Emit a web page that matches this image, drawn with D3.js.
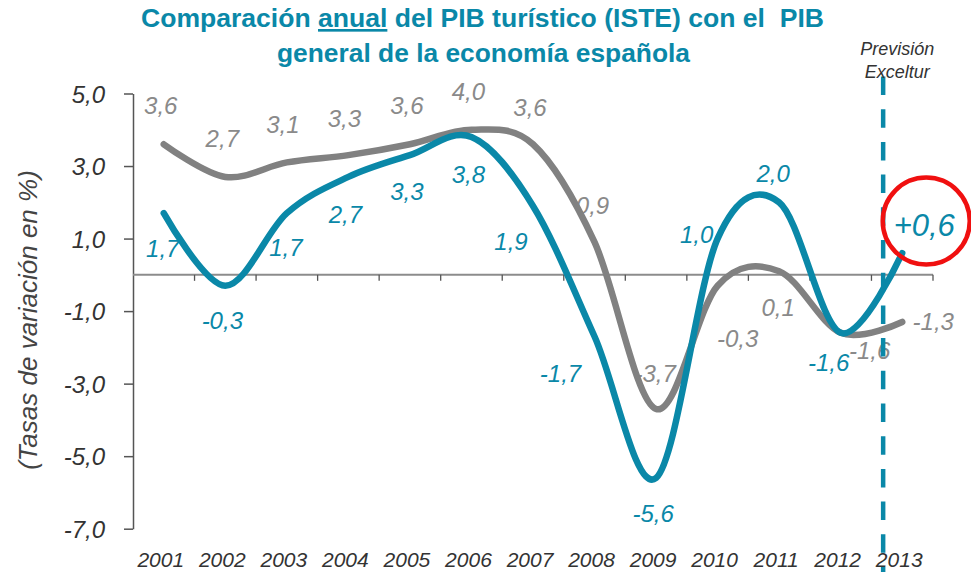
<!DOCTYPE html>
<html>
<head>
<meta charset="utf-8">
<script src="https://cdn.jsdelivr.net/npm/d3@7"></script>
<style>
  html, body { margin: 0; padding: 0; background: #ffffff; }
  svg { display: block; }
  text { font-family: "Liberation Sans", Arial, Helvetica, sans-serif; }
</style>
</head>
<body>
<svg id="chart" width="971" height="572"></svg>
<script>
// ---------------- DATA ----------------
const years = ["2001","2002","2003","2004","2005","2006","2007","2008","2009","2010","2011","2012","2013"];
const pibTuristico = [1.7, -0.3, 1.7, 2.7, 3.3, 3.8, 1.9, -1.7, -5.6, 1.0, 2.0, -1.6, 0.6];   // ISTE (teal)
const pibGeneral   = [3.6, 2.7, 3.1, 3.3, 3.6, 4.0, 3.6, 0.9, -3.7, -0.3, 0.1, -1.6, -1.3];  // PIB general (gray)
const yTicks = [-7, -5, -3, -1, 1, 3, 5];
const forecastYear = "2013";
const titleLine1 = ["Comparación ", "anual", " del PIB turístico (ISTE) con el  PIB"];
const titleLine2 = "general de la economía española";
const yAxisTitle = "(Tasas de variación en %)";
const forecastNote = ["Previsión", "Exceltur"];

// ---------------- LAYOUT (label offsets in px from the point) ----------------
const grayLabelOffsets = [[-3,-39],[-3,-39],[-4,-38],[-4,-37],[-3,-39],[-3,-38],[-3,-37],[-2,-37],[-1,-36],[20,53],[-1,36],[29,18],[31,-1]];
const tealLabelOffsets = [[-1,35],[-3,35],[-1,34],[-3,37],[-3,36],[-3,37],[-22,35],[-34,37],[-3,35],[-21,-4],[-6,-29],[-12,30],[22,-28]];

const TEAL = "#0a88a8";
const GRAY = "#818181";
const GRAY_LABEL = "#8a8a8a";
const AXIS = "#555555";
const LABEL_FS = 24;
const FORECAST_FS = 31;

const svg = d3.select("#chart");

const x = d3.scaleBand().domain(years).range([133, 933]);
const y = d3.scaleLinear().domain([-7, 5]).range([528.7, 93.5]);
const cx = d => x(d) + x.bandwidth() / 2;
const fmt = v => d3.format(".1f")(v).replace(".", ",").replace("−", "-");

// ---------- Title ----------
const t1 = svg.append("text")
  .attr("x", 141).attr("y", 27)
  .attr("font-size", 26.5).attr("font-weight", "bold").attr("fill", TEAL)
  .attr("textLength", 683).attr("lengthAdjust", "spacingAndGlyphs")
  .attr("xml:space", "preserve").style("white-space", "pre");
titleLine1.forEach((s, i) => {
  const ts = t1.append("tspan").text(s);
  if (i === 1) ts.style("text-decoration", "underline");
});
svg.append("text")
  .attr("x", 277).attr("y", 62)
  .attr("font-size", 26.5).attr("font-weight", "bold").attr("fill", TEAL)
  .attr("textLength", 413).attr("lengthAdjust", "spacingAndGlyphs")
  .text(titleLine2);

// ---------- Y axis ----------
const yAxis = d3.axisLeft(y).tickValues(yTicks).tickSize(9).tickSizeOuter(0).tickPadding(0)
  .tickFormat(fmt);
const gy = svg.append("g").attr("transform", "translate(133,0)").call(yAxis);
gy.select(".domain").attr("stroke", AXIS).attr("stroke-width", 1.5);
gy.selectAll(".tick line").attr("stroke", AXIS).attr("stroke-width", 1.5);
gy.selectAll(".tick text")
  .attr("x", -28).attr("dy", "0.36em")
  .attr("font-size", 24).attr("font-style", "italic").attr("fill", "#333")
  .attr("font-family", "'Liberation Sans', Arial, sans-serif");

// Y axis title
svg.append("text")
  .attr("transform", "translate(37," + 320 + ") rotate(-90)")
  .attr("text-anchor", "middle")
  .attr("font-size", 26).attr("font-style", "italic").attr("fill", "#444")
  .text(yAxisTitle);

// ---------- Zero line + category ticks ----------
const y0 = y(0);
svg.append("line")
  .attr("x1", x.range()[0]).attr("x2", x.range()[1])
  .attr("y1", y0).attr("y2", y0)
  .attr("stroke", "#8c8c8c").attr("stroke-width", 2);
const boundaries = years.map(d => x(d)).concat([x.range()[1]]);
svg.selectAll(".ctick").data(boundaries.slice(1)).enter().append("line")
  .attr("x1", d => d).attr("x2", d => d)
  .attr("y1", y0).attr("y2", y0 + 6)
  .attr("stroke", "#555").attr("stroke-width", 1.3);

// X labels
svg.selectAll(".xlab").data(years).enter().append("text")
  .attr("x", d => cx(d) - 3).attr("y", 567)
  .attr("text-anchor", "middle")
  .attr("font-size", 21).attr("font-style", "italic").attr("fill", "#333")
  .text(d => d);

// ---------- Data labels (under the lines) ----------
svg.selectAll(".glab").data(pibGeneral).enter().append("text")
  .attr("x", (d, i) => cx(years[i]) + grayLabelOffsets[i][0])
  .attr("y", (d, i) => y(d) + grayLabelOffsets[i][1] + LABEL_FS * 0.358)
  .attr("text-anchor", "middle")
  .attr("font-size", LABEL_FS).attr("font-style", "italic").attr("fill", GRAY_LABEL)
  .text(d => fmt(d));

svg.selectAll(".tlab").data(pibTuristico).enter().append("text")
  .attr("x", (d, i) => cx(years[i]) + tealLabelOffsets[i][0])
  .attr("y", (d, i) => {
    const fs = years[i] === forecastYear ? FORECAST_FS : LABEL_FS;
    return y(d) + tealLabelOffsets[i][1] + fs * 0.358;
  })
  .attr("text-anchor", "middle")
  .attr("font-size", (d, i) => years[i] === forecastYear ? FORECAST_FS : LABEL_FS)
  .attr("font-style", "italic").attr("fill", TEAL)
  .text((d, i) => years[i] === forecastYear ? "+" + fmt(d) : fmt(d));

// ---------- Lines ----------
const line = d3.line()
  .x((d, i) => cx(years[i]))
  .y(d => y(d))
  .curve(d3.curveCardinal.tension(0));

svg.append("path").datum(pibGeneral)
  .attr("d", line).attr("fill", "none")
  .attr("stroke", GRAY).attr("stroke-width", 6.5)
  .attr("stroke-linecap", "round").attr("stroke-linejoin", "round");

svg.append("path").datum(pibTuristico)
  .attr("d", line).attr("fill", "none")
  .attr("stroke", TEAL).attr("stroke-width", 6.5)
  .attr("stroke-linecap", "round").attr("stroke-linejoin", "round");

// ---------- Forecast marker ----------
const xf = x(forecastYear) + x.bandwidth() * 0.19;
svg.append("line")
  .attr("x1", xf).attr("x2", xf)
  .attr("y1", 76.5).attr("y2", 572)
  .attr("stroke", TEAL).attr("stroke-width", 4.5)
  .attr("stroke-dasharray", "18.5,14.2");

svg.selectAll(".note").data(forecastNote).enter().append("text")
  .attr("x", xf + 14).attr("y", (d, i) => 55 + i * 23)
  .attr("text-anchor", "middle")
  .attr("font-size", 18).attr("font-style", "italic").attr("fill", "#333")
  .text(d => d);

// Red circle around forecast value
const lastIdx = years.indexOf(forecastYear);
svg.append("circle")
  .attr("cx", cx(forecastYear) + 24)
  .attr("cy", y(pibTuristico[lastIdx]) - 32)
  .attr("r", 43.5)
  .attr("fill", "none").attr("stroke", "#f01010").attr("stroke-width", 4.5);
</script>
</body>
</html>
